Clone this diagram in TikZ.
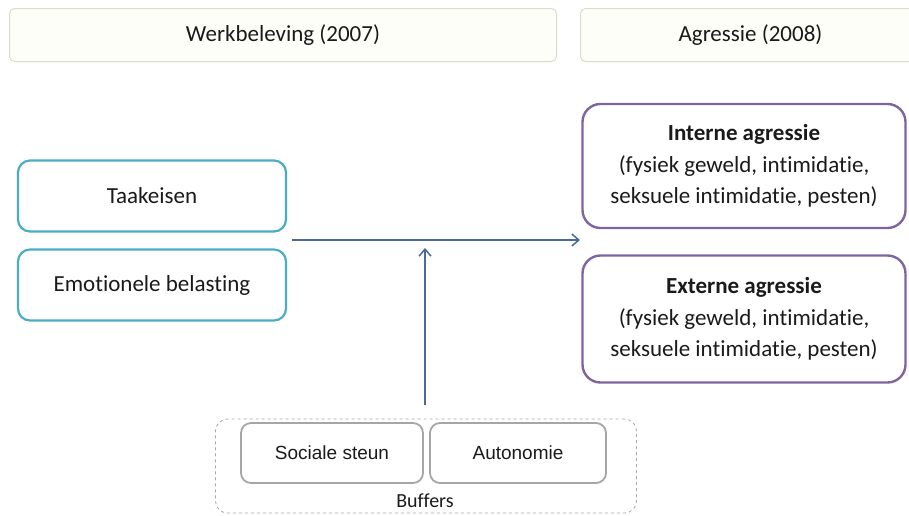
\documentclass[tikz,border=0pt]{standalone}
\usepackage{fontspec}
\setmainfont[Ligatures=CommonOff]{Carlito}
\newfontfamily\arialf{Liberation Sans}
\usetikzlibrary{arrows.meta}
\definecolor{hdrborder}{HTML}{D9DCC8}
\definecolor{hdrfill}{HTML}{FEFEF8}
\definecolor{tealb}{HTML}{4BACC6}
\definecolor{purpb}{HTML}{8064A2}
\definecolor{arrowc}{HTML}{4A6A9C}
\definecolor{grayb}{HTML}{A6A6A6}
\definecolor{txt}{HTML}{1A1A1A}
\tikzset{
  hdr/.style={draw=hdrborder, fill=hdrfill, line width=1pt, rounded corners=5pt, text=txt, font=\fontsize{23}{26}\selectfont},
  tealbox/.style={draw=tealb, line width=2.2pt, rounded corners=12pt, text=txt, font=\fontsize{23}{26}\selectfont},
  purpbox/.style={draw=purpb, line width=2.4pt, rounded corners=18pt, text=txt, align=center, font=\fontsize{23}{31.5}\selectfont},
  graybox/.style={draw=grayb, line width=1.8pt, rounded corners=10pt, text=txt, font=\arialf\fontsize{19}{22}\selectfont},
  conn/.style={draw=arrowc, line width=1.5pt, -{Straight Barb[length=7pt,width=12pt,line width=1.5pt]}}
}
\begin{document}
\begin{tikzpicture}[x=1pt,y=-1pt]
\useasboundingbox (0,0) rectangle (909,515);
% headers
\node[hdr, minimum width=547pt, minimum height=53pt] (h1) at (283,35) {Werkbeleving (2007)};
\node[hdr, minimum width=340pt, minimum height=53pt, anchor=west] (h2) at (580,35) {Agressie (2008)};
% left boxes
\node[tealbox, minimum width=268pt, minimum height=71pt] (taak) at (152,196) {Taakeisen};
\node[tealbox, minimum width=268pt, minimum height=71pt] (emo) at (152,285) {Emotionele belasting};
% right boxes
\node[purpbox, minimum width=323pt, minimum height=124pt] (intern) at (744,166) {\textbf{Interne agressie}\\(fysiek geweld, intimidatie,\\seksuele intimidatie, pesten)};
\node[purpbox, minimum width=323pt, minimum height=127pt] (extern) at (744,319) {\textbf{Externe agressie}\\(fysiek geweld, intimidatie,\\seksuele intimidatie, pesten)};
% buffers
\node[draw=grayb, dashed, line width=0.8pt, rounded corners=12pt, minimum width=421pt, minimum height=94pt] (buf) at (426,466) {};
\node[graybox, minimum width=182pt, minimum height=60pt] (soc) at (332,453) {Sociale steun};
\node[graybox, minimum width=176pt, minimum height=60pt] (auto) at (518,453) {Autonomie};
\node[text=txt, font=\fontsize{20}{22}\selectfont, anchor=base] (buflabel) at (425,507) {Buffers};
% connectors
\coordinate (hs) at (292,240);
\coordinate (he) at (580,240);
\coordinate (vs) at (425,405);
\coordinate (ve) at (425,248);
\draw[conn] (hs) -- (he);
\draw[conn] (vs) -- (ve);
\end{tikzpicture}
\end{document}
